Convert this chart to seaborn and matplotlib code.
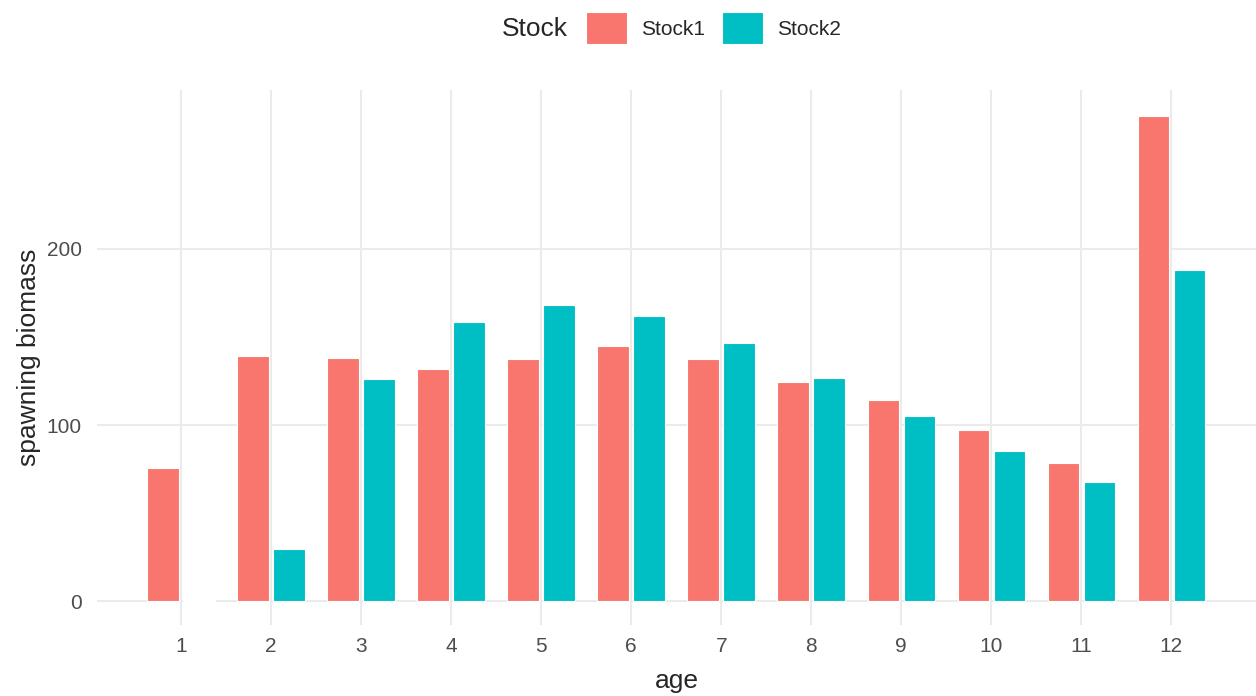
import matplotlib
matplotlib.use("Agg")
import matplotlib.pyplot as plt
import pandas as pd
import seaborn as sns

ages = list(range(1, 13))
stock1 = [75.6, 139.2, 138.0, 131.8, 137.5, 144.9, 137.5, 124.4, 114.2, 97.2, 78.4, 275.6]
stock2 = [0.4, 29.5, 126.1, 158.5, 168.2, 161.9, 146.6, 126.7, 105.1, 85.2, 67.6, 188.1]
stocks = ["Stock1", "Stock2"]

colors = {"Stock1": "#F8766D", "Stock2": "#00BFC4"}

df = pd.DataFrame({
    "age": ages * 2,
    "biomass": stock1 + stock2,
    "Stock": ["Stock1"] * len(ages) + ["Stock2"] * len(ages),
})

sns.set_style("white")
plt.rcParams["font.family"] = ["Liberation Sans", "DejaVu Sans"]

fig = plt.figure(figsize=(12.56, 6.96), dpi=100)
ax = fig.add_axes([97 / 1256, 71 / 696, 1159 / 1256, 535 / 696])

sns.barplot(
    data=df, x="age", y="biomass", hue="Stock", hue_order=stocks,
    palette=colors, native_scale=True, width=0.8, gap=0.125,
    edgecolor="white", linewidth=0.8, saturation=1, ax=ax, zorder=3,
)

ax.set_xlim(0.067, 12.94)
ax.set_ylim(-13.6, 290.3)
ax.set_xticks(ages)
ax.set_xticklabels([str(a) for a in ages])
ax.set_yticks([0, 100, 200])
ax.grid(True, color="#EBEBEB", linewidth=1.5, zorder=0)
ax.set_axisbelow(True)
for s in ax.spines.values():
    s.set_visible(False)
ax.tick_params(axis="both", length=0, labelsize=15, labelcolor="#4D4D4D")
ax.tick_params(axis="y", pad=11)
ax.tick_params(axis="x", pad=9)
ax.set_xlabel("age", fontsize=19, labelpad=9)
ax.set_ylabel("spawning biomass", fontsize=19, labelpad=4)

handles, labels = ax.get_legend_handles_labels()
ax.get_legend().remove()
fig.text(502 / 1256, 1 - 29 / 696, "Stock", fontsize=19, va="center", ha="left")
fig.legend(
    handles, labels, ncol=2, loc="center left",
    bbox_to_anchor=(586 / 1256, 1 - 28 / 696), frameon=False,
    fontsize=15, handlelength=1.97, handleheight=1.97,
    handletextpad=0.67, columnspacing=0.82, borderpad=0, borderaxespad=0,
)

fig.savefig("out.png", dpi=100)
